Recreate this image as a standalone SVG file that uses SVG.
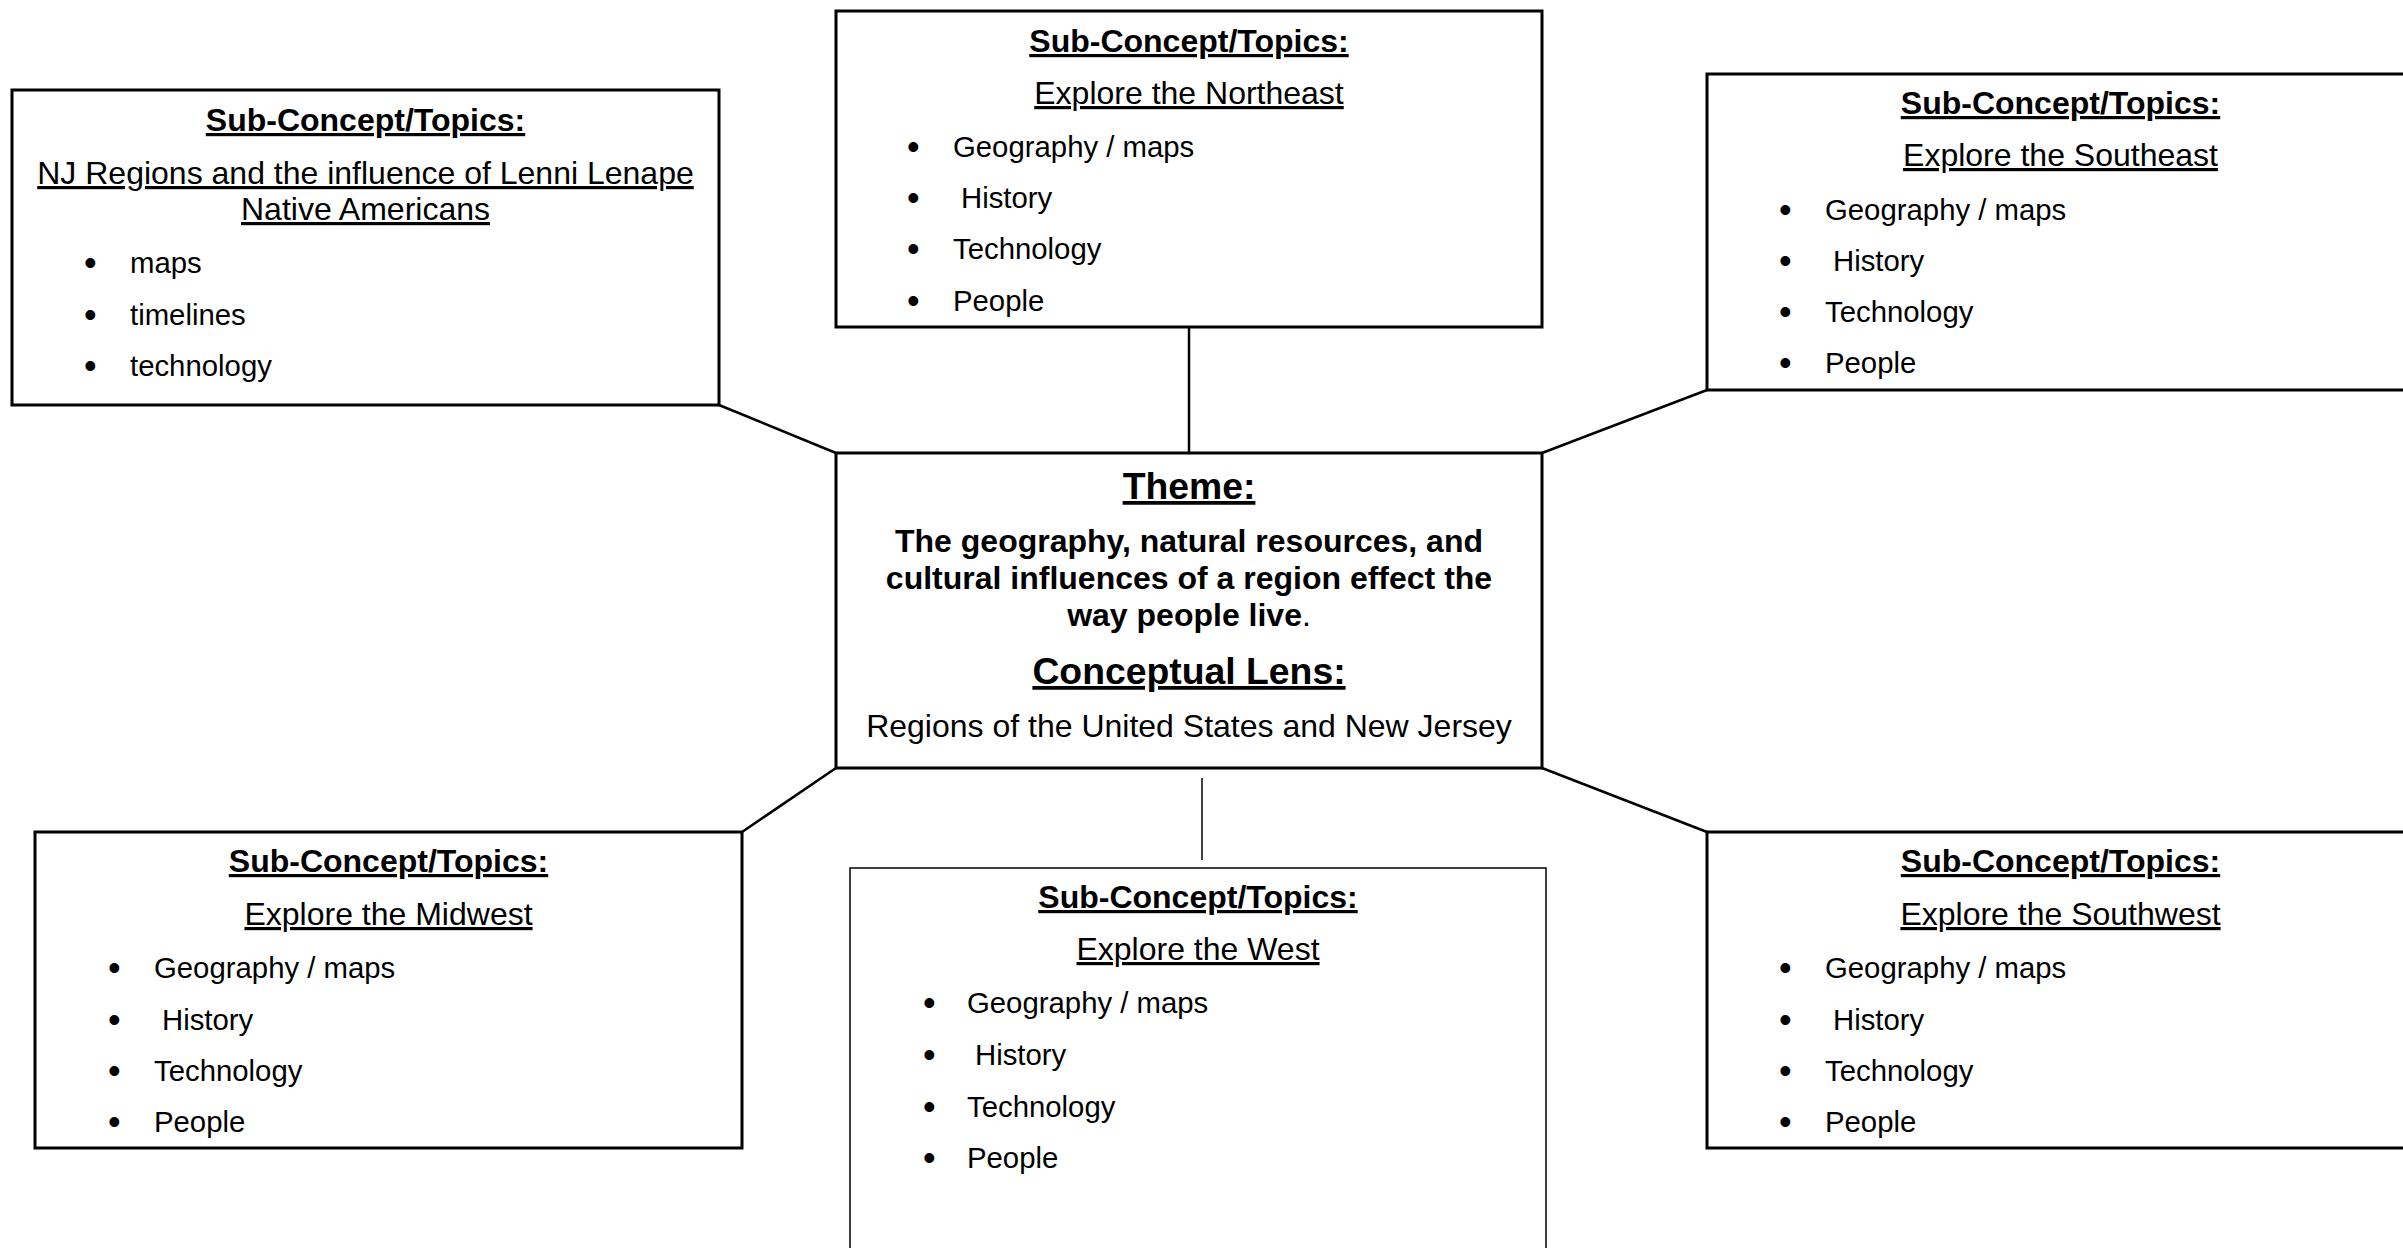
<svg xmlns="http://www.w3.org/2000/svg" width="2403" height="1248" viewBox="0 0 2403 1248">
<style>
text{font-family:"Liberation Sans",Arial,sans-serif;font-size:32px;fill:#000}
.h{font-weight:bold;text-decoration:underline}
.u{text-decoration:underline}
.c{text-anchor:middle}
.b{font-weight:bold}
.i{font-size:29.33px}
.d{font-size:36px}
.big{font-size:37.33px;font-weight:bold;text-decoration:underline}
.box{fill:#fff;stroke:#000;stroke-width:3}
.thin{fill:#fff;stroke:#000;stroke-width:1.5}
.con line{stroke:#000;stroke-width:2.5}
</style>
<rect width="2403" height="1248" fill="#fff"/>
<g id="connectors" class="con">
<line x1="719" y1="405" x2="836" y2="453"/>
<line x1="1189" y1="327" x2="1189" y2="453"/>
<line x1="1707" y1="390" x2="1542" y2="453"/>
<line x1="836" y1="768" x2="742" y2="832"/>
<line x1="1542" y1="768" x2="1707" y2="832"/>
<line x1="1202" y1="778" x2="1202" y2="860" style="stroke-width:1.5"/>
</g>
<g id="nj">
<rect class="box" x="12" y="90" width="707" height="315"/>
<text class="h c" x="365.5" y="131">Sub-Concept/Topics:</text>
<text class="u c" x="365.5" y="184">NJ Regions and the influence of Lenni Lenape</text>
<text class="u c" x="365.5" y="220">Native Americans</text>
<text class="d" x="84" y="275">•</text><text class="i" x="130" y="273">maps</text>
<text class="d" x="84" y="327">•</text><text class="i" x="130" y="325">timelines</text>
<text class="d" x="84" y="378">•</text><text class="i" x="130" y="376">technology</text>
</g>
<g id="northeast">
<rect class="box" x="836" y="11" width="706" height="316"/>
<text class="h c" x="1189" y="52">Sub-Concept/Topics:</text>
<text class="u c" x="1189" y="104">Explore the Northeast</text>
<text class="d" x="907" y="159">•</text><text class="i" x="953" y="157">Geography / maps</text>
<text class="d" x="907" y="210">•</text><text class="i" x="961" y="208">History</text>
<text class="d" x="907" y="261">•</text><text class="i" x="953" y="259">Technology</text>
<text class="d" x="907" y="313">•</text><text class="i" x="953" y="311">People</text>
</g>
<g id="southeast">
<rect class="box" x="1707" y="74" width="707" height="316"/>
<text class="h c" x="2060.5" y="114">Sub-Concept/Topics:</text>
<text class="u c" x="2060.5" y="166">Explore the Southeast</text>
<text class="d" x="1779" y="222">•</text><text class="i" x="1825" y="220">Geography / maps</text>
<text class="d" x="1779" y="273">•</text><text class="i" x="1833" y="271">History</text>
<text class="d" x="1779" y="324">•</text><text class="i" x="1825" y="322">Technology</text>
<text class="d" x="1779" y="375">•</text><text class="i" x="1825" y="373">People</text>
</g>
<g id="theme">
<rect class="box" x="836" y="453" width="706" height="315"/>
<text class="big c" x="1189" y="499">Theme:</text>
<text class="b c" x="1189" y="552">The geography, natural resources, and</text>
<text class="b c" x="1189" y="589">cultural influences of a region effect the</text>
<text class="b c" x="1189" y="626">way people live<tspan style="font-weight:normal">.</tspan></text>
<text class="big c" x="1189" y="684">Conceptual Lens:</text>
<text class="c" x="1189" y="737">Regions of the United States and New Jersey</text>
</g>
<g id="midwest">
<rect class="box" x="35" y="832" width="707" height="316"/>
<text class="h c" x="388.5" y="872">Sub-Concept/Topics:</text>
<text class="u c" x="388.5" y="925">Explore the Midwest</text>
<text class="d" x="108" y="980">•</text><text class="i" x="154" y="978">Geography / maps</text>
<text class="d" x="108" y="1032">•</text><text class="i" x="162" y="1030">History</text>
<text class="d" x="108" y="1083">•</text><text class="i" x="154" y="1081">Technology</text>
<text class="d" x="108" y="1134">•</text><text class="i" x="154" y="1132">People</text>
</g>
<g id="west">
<rect class="thin" x="850" y="868" width="696" height="400"/>
<text class="h c" x="1198" y="908">Sub-Concept/Topics:</text>
<text class="u c" x="1198" y="960">Explore the West</text>
<text class="d" x="923" y="1015">•</text><text class="i" x="967" y="1013">Geography / maps</text>
<text class="d" x="923" y="1067">•</text><text class="i" x="975" y="1065">History</text>
<text class="d" x="923" y="1119">•</text><text class="i" x="967" y="1117">Technology</text>
<text class="d" x="923" y="1170">•</text><text class="i" x="967" y="1168">People</text>
</g>
<g id="southwest">
<rect class="box" x="1707" y="832" width="707" height="316"/>
<text class="h c" x="2060.5" y="872">Sub-Concept/Topics:</text>
<text class="u c" x="2060.5" y="925">Explore the Southwest</text>
<text class="d" x="1779" y="980">•</text><text class="i" x="1825" y="978">Geography / maps</text>
<text class="d" x="1779" y="1032">•</text><text class="i" x="1833" y="1030">History</text>
<text class="d" x="1779" y="1083">•</text><text class="i" x="1825" y="1081">Technology</text>
<text class="d" x="1779" y="1134">•</text><text class="i" x="1825" y="1132">People</text>
</g>
</svg>
